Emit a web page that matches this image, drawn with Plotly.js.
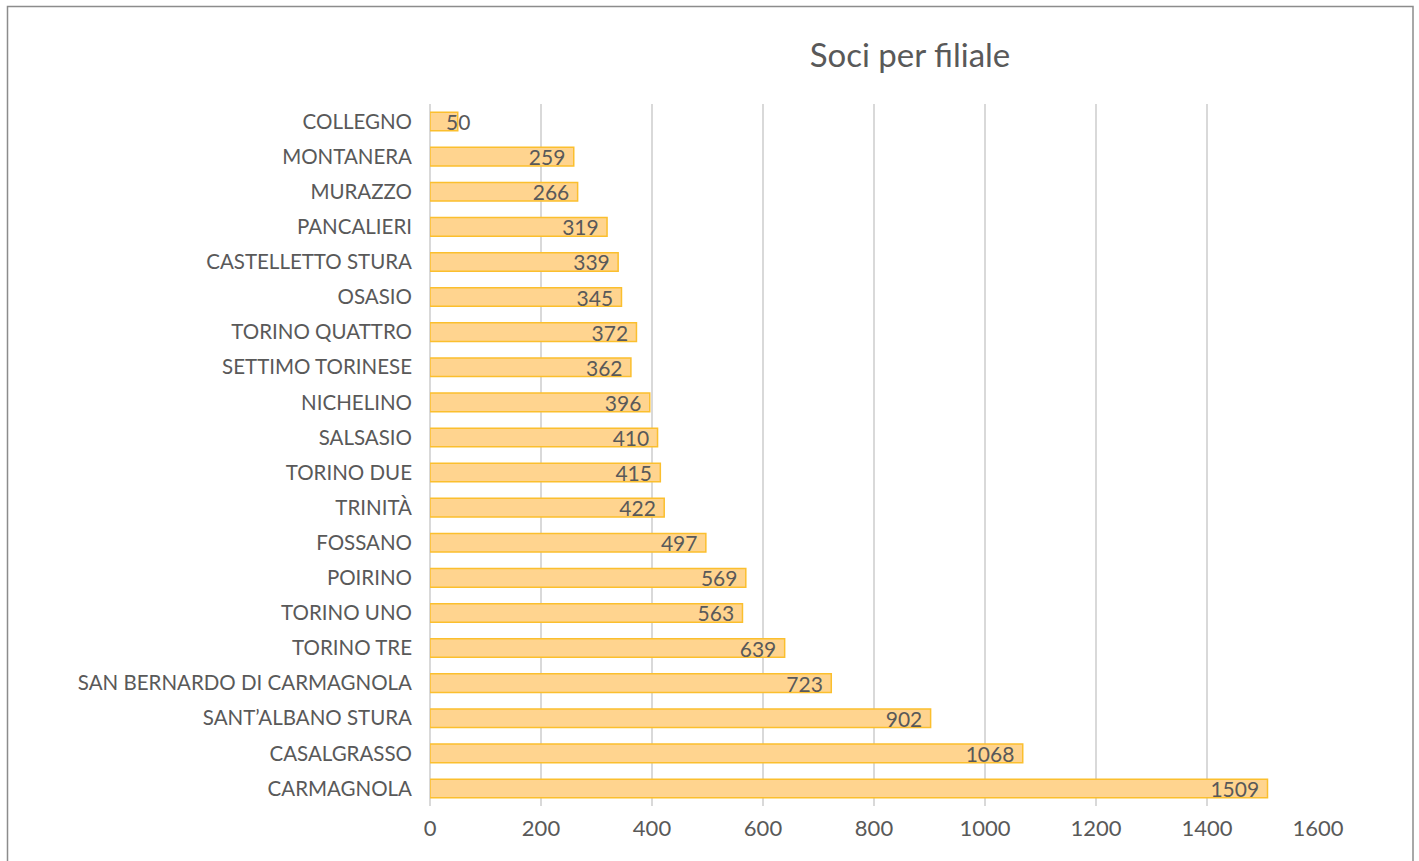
<!DOCTYPE html>
<html>
<head>
<meta charset="utf-8">
<script src="https://cdn.plot.ly/plotly-3.0.1.min.js"></script>
<style>
html,body{margin:0;padding:0;background:#fff;}
#chart{width:1419px;height:861px;}
</style>
</head>
<body>
<div id="chart"></div>
<script>
const branches = ["COLLEGNO","MONTANERA","MURAZZO","PANCALIERI","CASTELLETTO STURA","OSASIO","TORINO QUATTRO","SETTIMO TORINESE","NICHELINO","SALSASIO","TORINO DUE","TRINITÀ","FOSSANO","POIRINO","TORINO UNO","TORINO TRE","SAN BERNARDO DI CARMAGNOLA","SANT’ALBANO STURA","CASALGRASSO","CARMAGNOLA"];
const members = [50,259,266,319,339,345,372,362,396,410,415,422,497,569,563,639,723,902,1068,1509];
const xTicks = [0,200,400,600,800,1000,1200,1400,1600];
const chartTitle = "Soci per filiale";

const W = 1419, H = 861;
const ml = 430, mr = W - 1318, mt = 104, mb = H - 806;
const pw = W - ml - mr, ph = H - mt - mb;
const px = v => (v - ml) / pw;
const py = v => 1 - (v - mt) / ph;

const font = "Lato, 'Open Sans', sans-serif";
const grey = "#595959";
const small = 100; // labels that do not fit in their bar are centred on the bar end

const trace = {
  type: "bar",
  orientation: "h",
  y: branches,
  x: members,
  text: members.map(v => v < small ? "" : v + " "),
  textposition: "inside",
  insidetextanchor: "end",
  textangle: 0,
  constraintext: "none",
  cliponaxis: false,
  textfont: {family: font, size: 21, color: grey},
  marker: {color: "#FFD48F", line: {color: "#FBBF2E", width: 1.5}},
  hoverinfo: "none"
};

const annotations = members.map((v, i) => v < small ? {
  x: v, y: branches[i], xref: "x", yref: "y", text: String(v), showarrow: false,
  xanchor: "center", yanchor: "middle", font: {family: font, size: 21, color: grey}
} : null).filter(a => a);

const layout = {
  width: W, height: H,
  margin: {l: ml, r: mr, t: mt, b: mb, pad: 0},
  paper_bgcolor: "#fff",
  plot_bgcolor: "#fff",
  showlegend: false,
  bargap: 0.47,
  title: {text: chartTitle, font: {family: font, size: 33, color: grey}, xref: "paper", x: px(910), xanchor: "center", yref: "container", y: 1 - 55/H, yanchor: "middle"},
  xaxis: {
    range: [0, 1600], tickvals: xTicks, ticktext: xTicks.map(String),
    showgrid: true, gridcolor: "#d9d9d9", gridwidth: 1.5,
    zeroline: true, zerolinecolor: "#d9d9d9", zerolinewidth: 1.5,
    showline: false, ticks: "", ticklabelstandoff: 7,
    tickfont: {family: font, size: 22, color: grey}, fixedrange: true
  },
  yaxis: {
    autorange: "reversed", type: "category",
    showgrid: false, zeroline: false, showline: false, ticks: "",
    ticklabelstandoff: 17,
    tickfont: {family: font, size: 20.5, color: grey}, fixedrange: true
  },
  annotations: annotations,
  shapes: [{
    type: "rect", xref: "paper", yref: "paper",
    x0: px(7.5), x1: px(1413), y0: py(875), y1: py(6.5),
    line: {color: "#8c8c8c", width: 1.5}, fillcolor: "rgba(0,0,0,0)", layer: "below"
  }]
};

Plotly.newPlot("chart", [trace], layout, {displayModeBar: false, staticPlot: true});
</script>
</body>
</html>
